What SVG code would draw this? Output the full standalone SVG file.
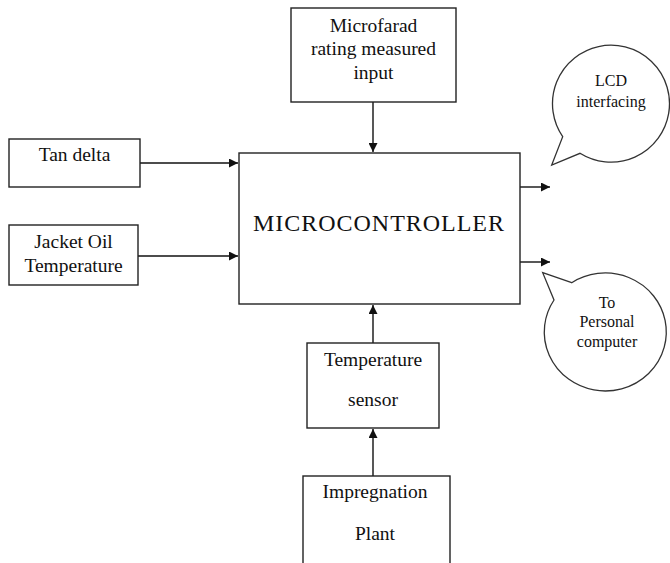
<svg xmlns="http://www.w3.org/2000/svg" width="670" height="563" viewBox="0 0 670 563">
  <defs>
    <style>
      .box { fill: #ffffff; stroke: #222222; stroke-width: 1.4; }
      .bubble { fill: #ffffff; stroke: #333333; stroke-width: 1.3; }
      text { font-family: "Liberation Serif", "DejaVu Serif", "Times New Roman", serif; font-size: 19.5px; fill: #111111; text-anchor: middle; }
      text.small { font-size: 16px; }
      text.big { font-size: 24px; }
      .wire { stroke: #111111; stroke-width: 1.4; fill: none; marker-end: url(#head); }
    </style>
    <marker id="head" viewBox="0 0 10 10" refX="10" refY="5" markerWidth="10" markerHeight="9" markerUnits="userSpaceOnUse" orient="auto">
      <path d="M0,0 L10,5 L0,10 Z" fill="#111111"/>
    </marker>
  </defs>
  <rect width="670" height="563" fill="#ffffff"/>

  <g id="connectors">
    <line class="wire" x1="373" y1="102" x2="373" y2="152"/>
    <line class="wire" x1="140" y1="163" x2="238" y2="163"/>
    <line class="wire" x1="138" y1="256" x2="238" y2="256"/>
    <line class="wire" x1="373" y1="343" x2="373" y2="305"/>
    <line class="wire" x1="373" y1="476" x2="373" y2="429"/>
    <line class="wire" x1="520" y1="187" x2="550" y2="187"/>
    <line class="wire" x1="520" y1="262" x2="550" y2="262"/>
  </g>

  <g id="microfarad">
    <rect class="box" x="291" y="8" width="165" height="94"/>
    <text x="373.5" y="32" font-family="Liberation Serif, serif">Microfarad</text>
    <text x="373.5" y="55" font-family="Liberation Serif, serif">rating measured</text>
    <text x="373.5" y="79" font-family="Liberation Serif, serif">input</text>
  </g>

  <g id="tan-delta">
    <rect class="box" x="9" y="139" width="131" height="48"/>
    <text x="74.5" y="161">Tan delta</text>
  </g>

  <g id="jacket-oil">
    <rect class="box" x="9" y="225" width="129" height="60"/>
    <text x="73.5" y="248">Jacket Oil</text>
    <text x="73.5" y="272">Temperature</text>
  </g>

  <g id="microcontroller">
    <rect class="box" x="239" y="153" width="281" height="151"/>
    <text class="big" x="378.5" y="231" textLength="251" lengthAdjust="spacing">MICROCONTROLLER</text>
  </g>

  <g id="temperature-sensor">
    <rect class="box" x="307" y="343" width="132" height="85"/>
    <text x="373" y="366">Temperature</text>
    <text x="373" y="406">sensor</text>
  </g>

  <g id="impregnation-plant">
    <rect class="box" x="303" y="476" width="147" height="100"/>
    <text x="375" y="498">Impregnation</text>
    <text x="375" y="540">Plant</text>
  </g>

  <g id="lcd">
    <path class="bubble" d="M580,153.3 A58.5,58.5 0 1 0 562.7,136.7 L551.7,165 Z"/>
    <text class="small" x="611" y="86">LCD</text>
    <text class="small" x="611" y="107">interfacing</text>
  </g>

  <g id="personal-computer">
    <path class="bubble" d="M571.7,282.7 L542.7,272.7 L554,300 A61,59 0 1 0 571.7,282.7 Z"/>
    <text class="small" x="607" y="308">To</text>
    <text class="small" x="607" y="327">Personal</text>
    <text class="small" x="607" y="347">computer</text>
  </g>
</svg>
